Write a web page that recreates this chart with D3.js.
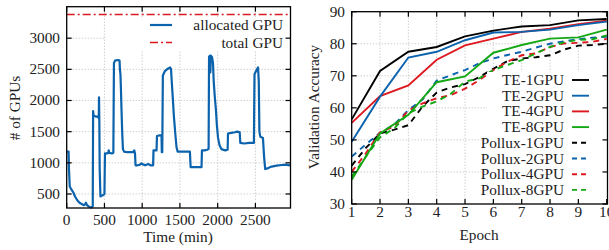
<!DOCTYPE html>
<html><head><meta charset="utf-8">
<script src="https://cdn.jsdelivr.net/npm/d3@7"></script>
<style>
html,body{margin:0;padding:0;background:#fff;}
svg text{font-family:"Liberation Serif","DejaVu Serif",serif;fill:#222;}
</style></head>
<body>
<svg id="c" width="609" height="250"></svg>
<script>
// ---- Left chart data ----
const timeMin = [0,25,30,40,66,90,110,140,155,180,199,225,245,255,262,270,290,310,330,345,350,356,370,390,410,425,428,432,437,447,460,480,500,507,540,552,556,565,600,618,626,640,680,700,705,712,718,725,735,745,760,800,850,880,895,905,912,940,970,990,1010,1040,1080,1110,1145,1150,1190,1196,1230,1256,1260,1266,1274,1300,1340,1370,1382,1392,1405,1420,1440,1455,1470,1520,1570,1632,1642,1700,1760,1786,1792,1830,1860,1880,1886,1897,1903,1910,1925,1938,1948,1962,1977,1990,2005,2025,2050,2100,2132,2137,2180,2230,2260,2292,2300,2350,2420,2480,2488,2520,2535,2545,2553,2565,2600,2615,2630,2660,2700,2780,2850,2900,2960];
const allocatedGPU = [1180,1180,900,620,565,520,460,400,376,350,340,320,335,360,340,320,300,290,285,300,1830,1760,1750,1740,1740,1720,2050,1700,900,460,470,480,500,1150,1150,1160,1200,1160,1150,1160,2600,2640,2650,2640,2500,2420,2200,1900,1500,1220,1180,1170,1170,1170,1200,1150,960,960,970,990,975,960,980,960,960,1200,1200,1430,1440,1440,1170,1170,2400,2470,2510,2530,2500,2300,2050,1750,1450,1250,1180,1180,1180,1180,930,930,930,930,1200,1200,1210,1220,2700,2720,2450,2720,2700,2600,2300,2060,1850,1600,1400,1280,1220,1200,1210,1470,1480,1490,1500,1490,1320,1310,1320,1320,2420,2500,2530,2300,1500,1420,1400,1100,900,910,935,955,965,970,960];
const totalGPU = 3380;
const timeTicks = [0,500,1000,1500,2000,2500];
const gpuTicks = [500,1000,1500,2000,2500,3000];

// ---- Right chart data ----
const epochs = [1,2,3,4,5,6,7,8,9,10];
const polluxEpochs = [1,1.5,2,2.5,3,3.5,4,4.5,5,5.5,6,6.5,7,7.5,8,8.5,9,9.5,10];
const te1 = [56.4,71.5,77.5,79.0,82.3,84.1,85.4,85.8,87.3,87.7];
const te2 = [49.4,63.5,75.7,77.5,81.1,83.5,83.7,84.4,85.8,86.9];
const te4 = [55.3,63.7,67.0,75.0,79.5,81.6,83.7,84.7,86.1,87.2];
const te8 = [37.6,52.0,57.8,68.0,69.8,77.2,79.6,81.6,82.0,84.4];
const pollux1 = [42.0,47.5,52.0,53.2,54.6,60.4,64.8,66.4,67.4,69.6,72.2,74.6,75.4,75.8,76.4,78.2,79.4,79.6,80.0];
const pollux2 = [44.8,48.6,52.2,54.8,59.3,62.6,68.5,70.2,71.8,73.9,75.4,76.5,77.5,78.8,80.0,80.8,81.4,81.9,82.2];
const pollux4 = [40.0,45.8,52.4,54.2,59.2,61.4,63.0,64.0,66.0,68.6,71.8,74.4,76.4,77.0,79.0,80.1,80.3,80.6,81.5];
const pollux8 = [38.5,44.8,50.8,53.6,58.3,60.4,62.0,64.4,68.2,69.2,71.8,73.4,74.9,77.0,79.0,80.5,81.2,81.4,82.6];
const seriesNames = ["TE-1GPU","TE-2GPU","TE-4GPU","TE-8GPU","Pollux-1GPU","Pollux-2GPU","Pollux-4GPU","Pollux-8GPU"];
const accTicks = [30,40,50,60,70,80,90];

const BLUE="#0b62ad", RED="#dd181f", GREEN="#14a814", BLACK="#000";
const svg = d3.select("#c");
const FS = 15.3;

function frame(g, x0,x1,y0,y1){
  g.append("rect").attr("x",x0).attr("y",y0).attr("width",x1-x0).attr("height",y1-y0)
   .attr("fill","none").attr("stroke","#000").attr("stroke-width",1.3);
}
function grid(g, xs, ys, x, y, x0,x1,y0,y1){
  xs.forEach(v=>g.append("line").attr("x1",x(v)).attr("x2",x(v)).attr("y1",y0).attr("y2",y1)
     .attr("stroke","#aaa").attr("stroke-width",0.8).attr("stroke-dasharray","1,2"));
  ys.forEach(v=>g.append("line").attr("x1",x0).attr("x2",x1).attr("y1",y(v)).attr("y2",y(v))
     .attr("stroke","#aaa").attr("stroke-width",0.8).attr("stroke-dasharray","1,2"));
}
function ticks(g, xs, ys, x, y, x0,x1,y0,y1, L){
  xs.forEach(v=>{
    g.append("line").attr("x1",x(v)).attr("x2",x(v)).attr("y1",y1).attr("y2",y1-L).attr("stroke","#000").attr("stroke-width",1.2);
    g.append("line").attr("x1",x(v)).attr("x2",x(v)).attr("y1",y0).attr("y2",y0+L).attr("stroke","#000").attr("stroke-width",1.2);
  });
  ys.forEach(v=>{
    g.append("line").attr("x1",x0).attr("x2",x0+L).attr("y1",y(v)).attr("y2",y(v)).attr("stroke","#000").attr("stroke-width",1.2);
    g.append("line").attr("x1",x1).attr("x2",x1-L).attr("y1",y(v)).attr("y2",y(v)).attr("stroke","#000").attr("stroke-width",1.2);
  });
}

// ===== Left chart =====
{
  const x0=66.7, x1=290.5, y0=6.7, y1=208;
  const x = d3.scaleLinear().domain([0,2965]).range([x0,x1]);
  const y = d3.scaleLinear().domain([275,3505]).range([y1,y0]);
  const g = svg.append("g");
  grid(g, timeTicks.slice(1), gpuTicks, x, y, x0,x1,y0,y1);
  g.append("rect").attr("x",106).attr("y",17).attr("width",183).attr("height",33).attr("fill","#fff");
  g.append("line").attr("x1",x0).attr("x2",x1).attr("y1",y(totalGPU)).attr("y2",y(totalGPU))
    .attr("stroke",RED).attr("stroke-width",1.7).attr("stroke-dasharray","8,3,2,3");
  const line = d3.line().x((d,i)=>x(timeMin[i])).y(d=>y(d));
  g.append("path").attr("d",line(allocatedGPU)).attr("fill","none").attr("stroke",BLUE)
    .attr("stroke-width",2.2).attr("stroke-linejoin","round");
  ticks(g, timeTicks, gpuTicks, x, y, x0,x1,y0,y1,5);
  frame(g,x0,x1,y0,y1);
  timeTicks.forEach(v=>g.append("text").attr("x",x(v)).attr("y",225).attr("text-anchor","middle").attr("font-size",FS).text(v));
  gpuTicks.forEach(v=>g.append("text").attr("x",60).attr("y",y(v)+5).attr("text-anchor","end").attr("font-size",FS).text(v));
  g.append("text").attr("x",178).attr("y",242).attr("text-anchor","middle").attr("font-size",FS).text("Time (min)");
  g.append("text").attr("transform","translate(20,108) rotate(-90)").attr("text-anchor","middle").attr("font-size",FS).text("# of GPUs");
  g.append("line").attr("x1",150).attr("x2",172).attr("y1",25).attr("y2",25).attr("stroke",BLUE).attr("stroke-width",2.2);
  g.append("text").attr("x",283).attr("y",30).attr("text-anchor","end").attr("font-size",FS).text("allocated GPU");
  g.append("line").attr("x1",150).attr("x2",172).attr("y1",42.5).attr("y2",42.5).attr("stroke",RED).attr("stroke-width",1.7).attr("stroke-dasharray","8,3,2,3");
  g.append("text").attr("x",283).attr("y",48).attr("text-anchor","end").attr("font-size",FS).text("total GPU");
}

// ===== Right chart =====
{
  const x0=351.7, x1=607.5, y0=11.7, y1=204;
  const x = d3.scaleLinear().domain([1,10]).range([x0,606.7]);
  const y = d3.scaleLinear().domain([30,90]).range([y1,y0]);
  const g = svg.append("g");
  grid(g, epochs.slice(1,9), accTicks.slice(1,6), x, y, x0,x1,y0,y1);
  const series = [
    {v:te1, xs:epochs, c:BLACK, d:null},
    {v:te2, xs:epochs, c:BLUE, d:null},
    {v:te4, xs:epochs, c:RED, d:null},
    {v:te8, xs:epochs, c:GREEN, d:null},
    {v:pollux1, xs:polluxEpochs, c:BLACK, d:"6,5"},
    {v:pollux2, xs:polluxEpochs, c:BLUE, d:"6,5"},
    {v:pollux4, xs:polluxEpochs, c:RED, d:"6,5"},
    {v:pollux8, xs:polluxEpochs, c:GREEN, d:"6,5"}
  ];
  const order=[4,5,6,7,3,2,1,0];
  order.forEach(k=>{
    const s=series[k];
    const line=d3.line().x((d,i)=>x(s.xs[i])).y(d=>y(d));
    const p=g.append("path").attr("d",line(s.v)).attr("fill","none").attr("stroke",s.c).attr("stroke-width",1.9);
    if(s.d) p.attr("stroke-dasharray",s.d);
  });
  g.append("rect").attr("x",487).attr("y",72).attr("width",120).attr("height",127).attr("fill","#fff");
  seriesNames.forEach((n,i)=>{
    const yy = 80 + i*15.7;
    g.append("text").attr("x",564).attr("y",yy+5).attr("text-anchor","end").attr("font-size",FS).text(n);
    const l=g.append("line").attr("x1",572).attr("x2",589).attr("y1",yy).attr("y2",yy).attr("stroke",series[i].c).attr("stroke-width",1.9);
    if(series[i].d) l.attr("stroke-dasharray","5,4");
  });
  ticks(g, epochs, accTicks, x, y, x0,x1,y0,y1,5);
  frame(g,x0,x1,y0,y1);
  epochs.forEach(v=>g.append("text").attr("x",x(v)).attr("y",217).attr("text-anchor","middle").attr("font-size",FS).text(v));
  accTicks.forEach(v=>g.append("text").attr("x",345).attr("y",y(v)+5).attr("text-anchor","end").attr("font-size",FS).text(v));
  g.append("text").attr("x",479).attr("y",240).attr("text-anchor","middle").attr("font-size",FS).text("Epoch");
  g.append("text").attr("transform","translate(319,107) rotate(-90)").attr("text-anchor","middle").attr("font-size",FS).text("Validation Accuracy");
}
</script>
</body></html>
